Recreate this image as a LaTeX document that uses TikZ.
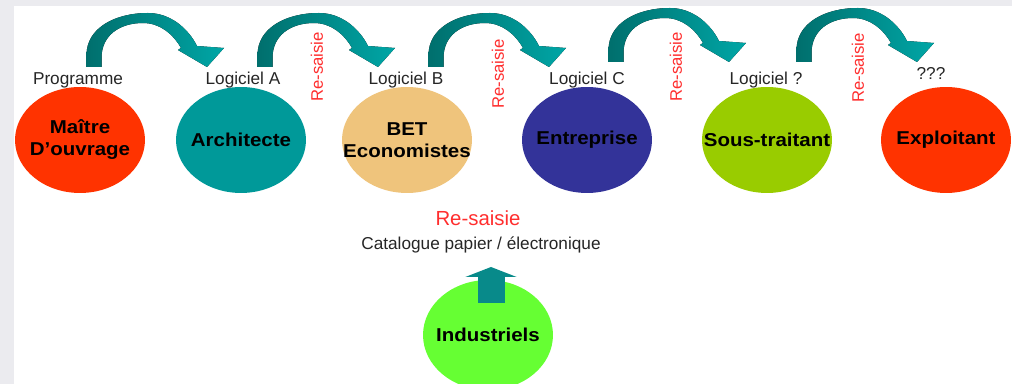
\documentclass[tikz,border=0pt]{standalone}
\usepackage{fontspec}
\setmainfont{Liberation Sans}
\usetikzlibrary{shapes.geometric,arrows.meta}
\definecolor{bggray}{HTML}{EBEBEF}
\definecolor{cRed}{HTML}{FF3300}
\definecolor{cTeal}{HTML}{009999}
\definecolor{cTan}{HTML}{EFC47C}
\definecolor{cBlue}{HTML}{333399}
\definecolor{cLime}{HTML}{99CC00}
\definecolor{cGreen}{HTML}{66FF33}
\definecolor{tealDark}{HTML}{006F6D}
\definecolor{tealLight}{HTML}{00A6A6}
\definecolor{upTeal}{HTML}{088A8A}
\definecolor{rsRed}{HTML}{FF2E2E}
\newcommand{\flecheArc}{%
  (-7.5,0) -- (-7.5,-12) .. controls (-7.5,-39) and (21,-54) .. (54,-54)
  .. controls (76,-54) and (94,-39) .. (103,-21)
  -- (130,-19) -- (113,0) -- (84,-17) -- (87,-19)
  .. controls (79,-33) and (66,-44) .. (49,-44)
  .. controls (26,-44) and (7.5,-32) .. (7.5,-9) -- (7.5,0) -- cycle}
\begin{document}
\begin{tikzpicture}[x=0.02cm,y=-0.02cm,
  blob/.style={ellipse, inner sep=0pt, minimum width=2.6cm, minimum height=2.12cm},
  etext/.style={font=\fontsize{10.6}{12.5}\selectfont\bfseries, align=center, text=black, inner sep=0pt, xscale=1.1},
  lbl/.style={font=\fontsize{9.8}{11}\selectfont, text=black!85, inner sep=0pt},
  rs/.style={font=\fontsize{9.5}{11}\selectfont, text=rsRed, rotate=90, inner sep=0pt},
  ribbon/.style={left color=tealDark, right color=tealLight, draw=none},
  upArrow/.style={draw=upTeal, line width=0.54cm, -{Triangle[length=0.2cm,width=1.02cm]}}]
\useasboundingbox (0,0) rectangle (1012,384);
\fill[bggray] (0,0) rectangle (1012,384);
\fill[white] (14,6) rectangle (1012,384);
\begin{scope}
\clip (14,6) rectangle (1012,384);
% ellipses
\node[blob, fill=cRed]   (mo)  at (80,140)  {};
\node[blob, fill=cTeal]  (arc) at (241,140) {};
\node[blob, fill=cTan]   (bet) at (407,140) {};
\node[blob, fill=cBlue]  (ent) at (587,140) {};
\node[blob, fill=cLime]  (st)  at (767,140) {};
\node[blob, fill=cRed]   (exp) at (946,140) {};
\node[blob, fill=cGreen, minimum height=2.2cm] (ind) at (488,335) {};
\end{scope}
% ellipse texts
\node[etext] (tmo)  at (mo)  {Maître\\D'ouvrage};
\node[etext] (tarc) at (arc) {Architecte};
\node[etext] (tbet) at (bet) {BET\\Economistes};
\node[etext] (tent) at (ent) {Entreprise};
\node[etext] (tst)  at (st)  {Sous-traitant};
\node[etext] (texp) at (exp) {Exploitant};
\node[etext] (tind) at (ind) {Industriels};
% labels
\node[lbl] (lprog) at (78,80)  {Programme};
\node[lbl] (la)    at (243,80) {Logiciel A};
\node[lbl] (lb)    at (406,80) {Logiciel B};
\node[lbl] (lc)    at (587,80) {Logiciel C};
\node[lbl] (lq)    at (766,80) {Logiciel ?};
\node[lbl] (lqqq)  at (931,73) {???};
% vertical Re-saisie
\node[rs] (rs1) at (317,67) {Re-saisie};
\node[rs] (rs2) at (498,74) {Re-saisie};
\node[rs] (rs3) at (676,67) {Re-saisie};
\node[rs] (rs4) at (858,68) {Re-saisie};
% curved arrows
\begin{scope}[shift={(94,67)}]  \fill[ribbon] \flecheArc; \end{scope}
\begin{scope}[shift={(265,67)}] \fill[ribbon] \flecheArc; \end{scope}
\begin{scope}[shift={(436,67)}] \fill[ribbon] \flecheArc; \end{scope}
\begin{scope}[shift={(616,62)}] \fill[ribbon] \flecheArc; \end{scope}
\begin{scope}[shift={(804,62)}] \fill[ribbon] \flecheArc; \end{scope}
% bottom texts
\node[font=\fontsize{11.6}{13}\selectfont, text=rsRed, inner sep=0pt] (rsb) at (478,218) {Re-saisie};
\node[lbl] (cat) at (481,245) {Catalogue papier / électronique};
% up arrow
\coordinate (upfoot) at (491,303);
\coordinate (uptip) at (491,267);
\draw[upArrow] (upfoot) -- (uptip);
\end{tikzpicture}
\end{document}
